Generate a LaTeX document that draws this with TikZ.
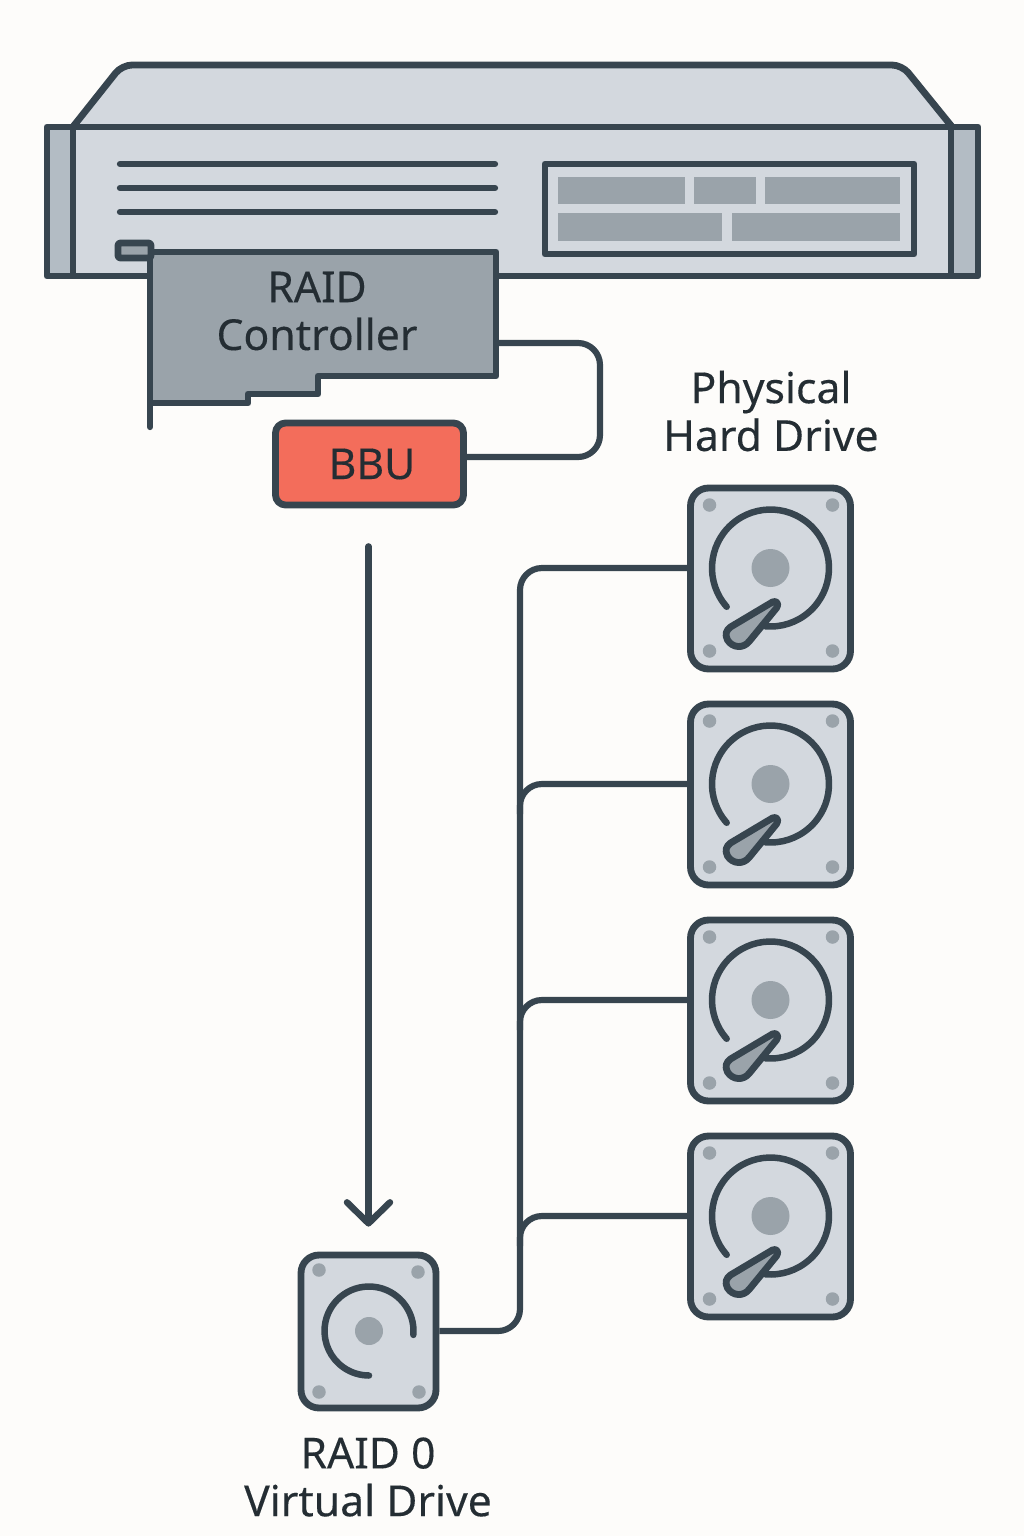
\documentclass[tikz,border=0pt]{standalone}
\usepackage{fontspec}
\setmainfont[FakeBold=0.25]{Noto Sans}
\usetikzlibrary{arrows.meta}

\definecolor{ink}{HTML}{37454F}
\definecolor{body}{HTML}{D3D8DE}
\definecolor{slate}{HTML}{9AA3AA}
\definecolor{ear}{HTML}{B3BCC4}
\definecolor{battery}{HTML}{F36D5B}
\definecolor{paper}{HTML}{FDFCFA}

\tikzset{
  outline/.style={draw=ink, line width=3.9pt, line join=round},
  wire/.style={draw=ink, line width=3.5pt, rounded corners=0.44cm},
  vent/.style={draw=ink, line width=3.6pt, line cap=round},
  label/.style={font=\fontsize{24.3}{27.2}\selectfont, text=ink!65!black, align=center, inner sep=0pt},
  drive/.style={outline, fill=body, rounded corners=0.36cm, inner sep=0pt},
  hub/.style={circle, fill=slate, inner sep=0pt},
  screw/.style={circle, fill=slate, inner sep=0pt, minimum size=0.27cm},
  platter/.style={draw=ink, line width=3.7pt, line cap=round},
  blank/.style={inner sep=0pt, outer sep=0pt}
}

\begin{document}
\begin{tikzpicture}[x=0.02cm,y=-0.02cm]
\useasboundingbox (0,0) rectangle (1024,1536);
\fill[paper] (0,0) rectangle (1024,1536);

%server lid and front:
\draw[outline, fill=body] (72,128) [rounded corners=0.2cm] -- (122,65) -- (902,65) [sharp corners] -- (953,128) -- cycle;
\fill[body] (47,127) rectangle (978,276);
\draw[outline, fill=ear] (47,127) rectangle (73,276);
\draw[outline, fill=ear] (951,127) rectangle (978,276);
\draw[outline] (73,127) rectangle (951,276);

%vents:
\draw[vent] (120,164) -- (495,164);
\draw[vent] (120,188) -- (495,188);
\draw[vent] (120,212) -- (495,212);

%front panel:
\draw[outline, fill=body] (545,164) rectangle (914,254);
\fill[slate] (558,177) rectangle (685,204);
\fill[slate] (694,177) rectangle (756,204);
\fill[slate] (765,177) rectangle (900,204);
\fill[slate] (558,213) rectangle (722,241);
\fill[slate] (732,213) rectangle (900,241);

%raid card:
\node[blank, minimum width=6.92cm, minimum height=2.48cm] (card) at (323,314) {};
\coordinate (turn) at (600,0);
\node[outline, fill=battery, rounded corners=0.2cm, minimum width=3.76cm, minimum height=1.64cm] (bbu) at (369.5,464) {};
\draw[wire] ([yshift=-0.58cm]card.east) -- ([yshift=-0.58cm]card.east -| turn) -- ([yshift=0.14cm]bbu.east -| turn) -- ([yshift=0.14cm]bbu.east);
\draw[outline, fill=slate] (150,252) -- (496,252) -- (496,376) -- (318,376) -- (318,394) -- (248,394) -- (248,403) -- (150,403) -- cycle;
\draw[vent] (150,403) -- (150,427);
\draw[outline, fill=slate, rounded corners=0.05cm] (118,243) rectangle (151,258);
\node[label] (cardtext) at (317,311) {RAID\\Controller};
\node[label] (bbutext) at (372,464) {BBU};

%virtual drive:
\node[drive, minimum width=2.7cm, minimum height=3.06cm] (vdisk) at (368.5,1331.5) {};
\node[hub, minimum size=0.56cm] (vhub) at (369,1331) {};
\node[screw] (vscrew1) at (319,1270) {};
\node[screw] (vscrew2) at (418,1272) {};
\node[screw] (vscrew3) at (319,1392) {};
\node[screw] (vscrew4) at (419,1392) {};
\draw[platter] ([shift={(-5:0.89cm)}]vhub.center) arc[start angle=-5, end angle=270, radius=0.89cm];
\node[label] (vtext) at (368,1477) {RAID 0\\Virtual Drive};

%physical drives:
\node[label] (disktext) at (771,411) {Physical\\Hard Drive};
\foreach \n/\y in {1/578.5,2/794.5,3/1010.5,4/1226.5}{
  \node[drive, minimum width=3.2cm, minimum height=3.62cm] (disk\n) at (770.5,\y) {};
  \node[hub, minimum size=0.76cm] (hub\n) at ([yshift=0.21cm]disk\n.center) {};
  \begin{scope}[shift={(hub\n.center)}]
    \node[screw] (screw\n a) at (-61,-63) {};
    \node[screw] (screw\n b) at (62,-63) {};
    \node[screw] (screw\n c) at (-61,83) {};
    \node[screw] (screw\n d) at (62,83) {};
    \draw[platter] (221.5:1.17cm) arc[start angle=221.5, end angle=-95, radius=1.17cm];
    \draw[outline, fill=slate] (2,34) .. controls (6,32) and (9,36) .. (6,40) -- (-21,73) .. controls (-27,81) and (-38,80) .. (-43,72) .. controls (-46,66) and (-44,62) .. (-40,59) -- cycle;
  \end{scope}
}

%bus:
\coordinate (bus) at (520,0);
\draw[wire] (vhub -| vdisk.east) -- (vhub -| bus) -- (hub1 -| bus) -- (hub1 -| disk1.west);
\draw[wire] (hub2 -| disk2.west) -- (hub2 -| bus) -- ([yshift=-0.6cm]hub2 -| bus);
\draw[wire] (hub3 -| disk3.west) -- (hub3 -| bus) -- ([yshift=-0.6cm]hub3 -| bus);
\draw[wire] (hub4 -| disk4.west) -- (hub4 -| bus) -- ([yshift=-0.6cm]hub4 -| bus);

%arrow:
\draw[draw=ink, line width=3.7pt, line cap=round, -{Straight Barb[length=0.42cm, width=0.86cm, round]}, shorten <=0.76cm, shorten >=0.5cm] (bbu.south -| vdisk.north) -- (vdisk.north);
\end{tikzpicture}
\end{document}
